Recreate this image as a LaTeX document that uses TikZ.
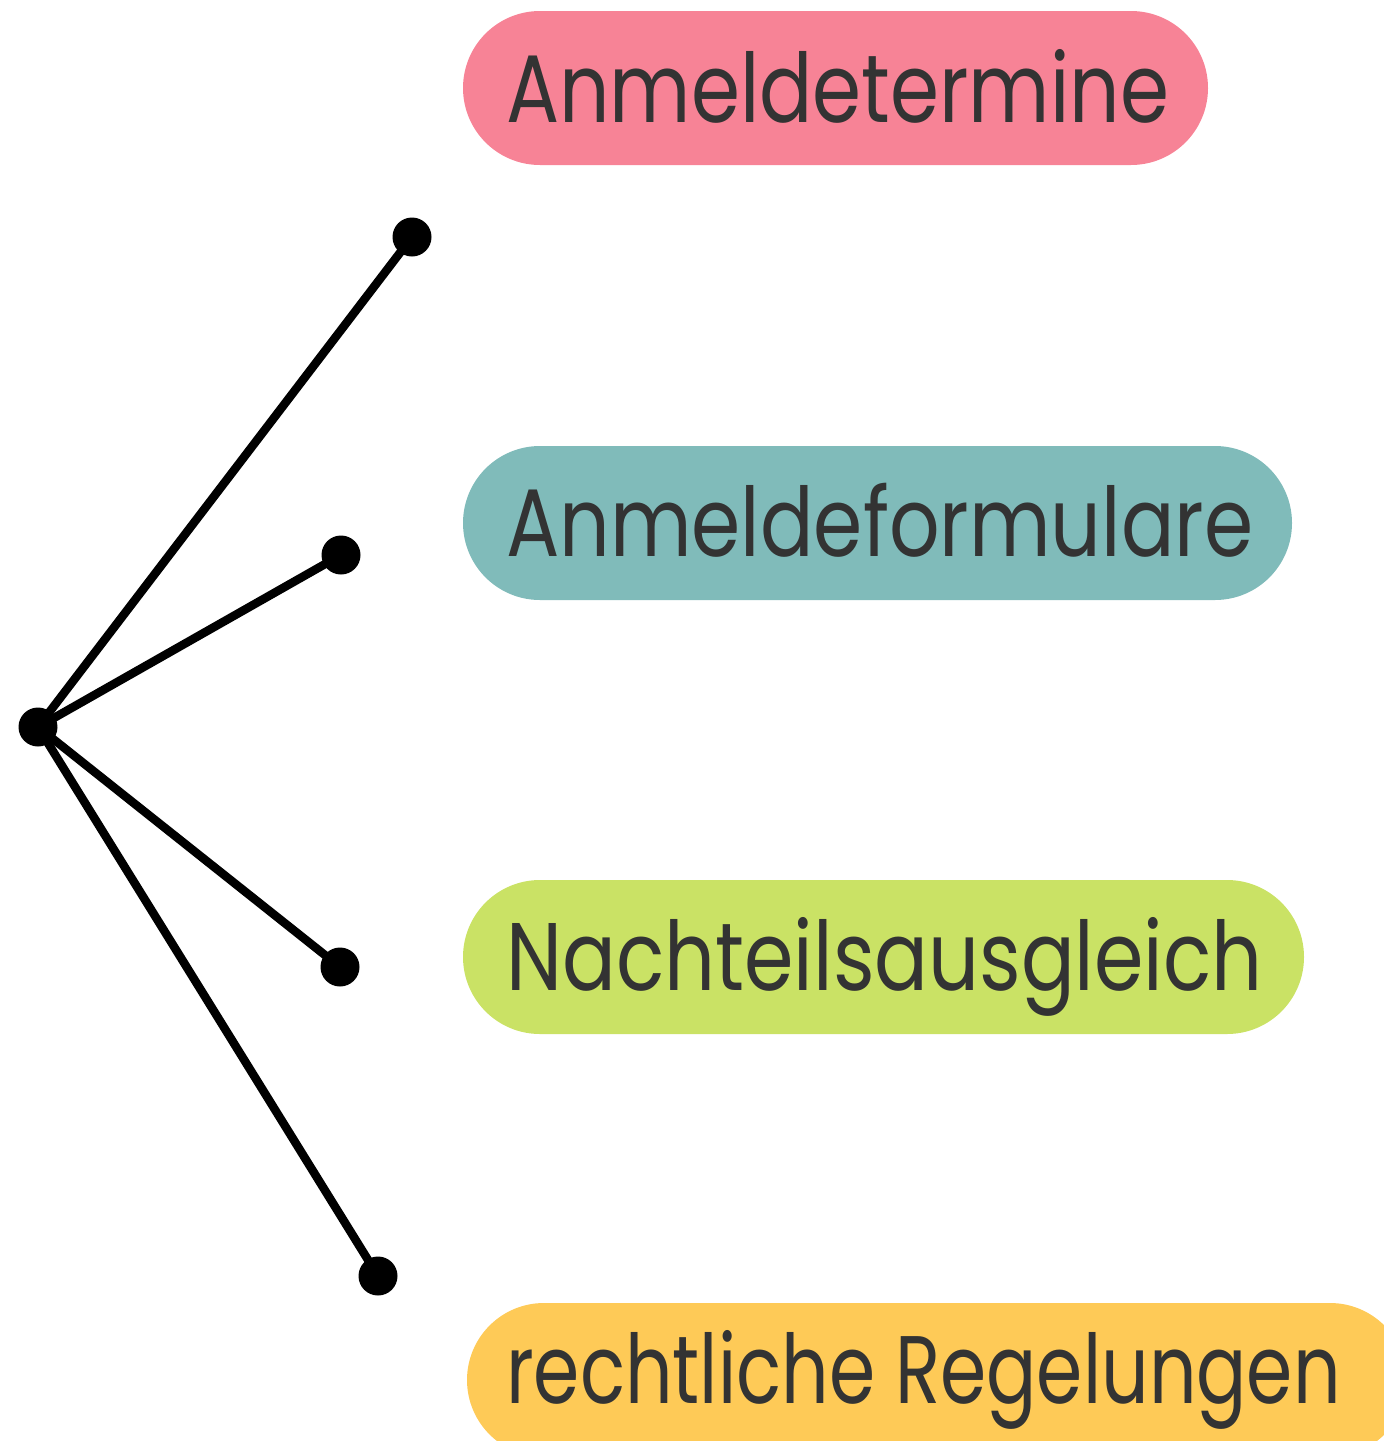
\documentclass[tikz,border=0pt]{standalone}
\usepackage{fontspec}
\setmainfont{Poppins}
\definecolor{pinkc}{HTML}{F78396}
\definecolor{tealc}{HTML}{80BBBA}
\definecolor{greenc}{HTML}{CAE265}
\definecolor{yellowc}{HTML}{FECA57}
\definecolor{txt}{HTML}{333333}
\newcommand{\narrowtxt}[2]{\scalebox{#1}[1]{#2}}
\tikzset{
  pill/.style={rounded corners=77pt},
  lbl/.style={anchor=base west, inner sep=0pt, text=txt, font=\fontsize{96}{100}\selectfont},
  dotc/.style={circle, fill=black, minimum size=39pt, inner sep=0pt},
  conn/.style={line width=8.5pt, black},
}
\begin{document}
\begin{tikzpicture}[x=1pt,y=-1pt]
\useasboundingbox (0,0) rectangle (1384,1441);
\clip (0,0) rectangle (1384,1441);
\fill[pinkc, pill] (463,11) rectangle (1208,165);
\fill[tealc, pill] (463,446) rectangle (1292,600);
\fill[greenc, pill] (463,880) rectangle (1304,1034);
\fill[yellowc, pill] (467,1303) rectangle (1407,1457);
\node[lbl] (t1) at (506,122) {\narrowtxt{0.822}{Anmeldetermine}};
\node[lbl] (t2) at (506,556) {\narrowtxt{0.825}{Anmeldeformulare}};
\node[lbl] (t3) at (506,990) {\narrowtxt{0.830}{Nachteilsausgleich}};
\node[lbl] (t4) at (506,1403) {\narrowtxt{0.775}{rechtliche Regelungen}};
\node[dotc] (c) at (38,727) {};
\node[dotc] (d1) at (412,237) {};
\node[dotc] (d2) at (341,555) {};
\node[dotc] (d3) at (340,967) {};
\node[dotc] (d4) at (378,1276) {};
\draw[conn] (c.center) -- (d1.center);
\draw[conn] (c.center) -- (d2.center);
\draw[conn] (c.center) -- (d3.center);
\draw[conn] (c.center) -- (d4.center);
\end{tikzpicture}
\end{document}
